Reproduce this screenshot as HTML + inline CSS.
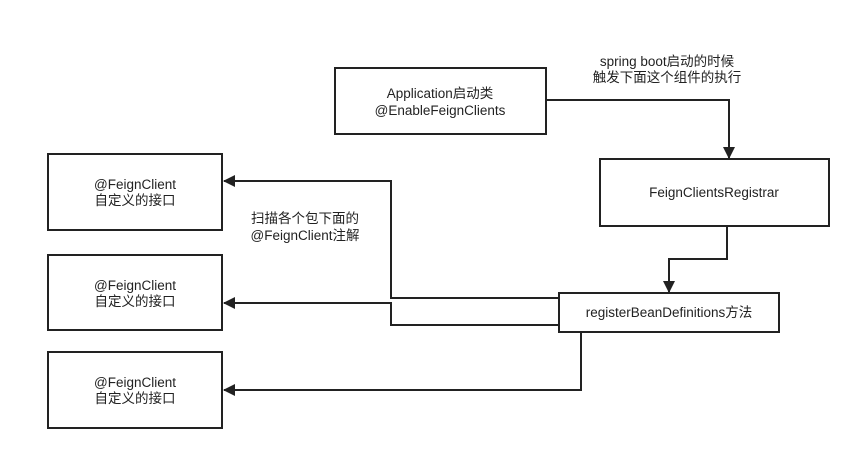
<!DOCTYPE html>
<html><head><meta charset="utf-8"><style>
body{margin:0;background:#fff;}
svg text{font-family:"Liberation Sans","Noto Sans CJK SC",sans-serif;font-size:13.5px;fill:#222;text-anchor:middle;}
</style></head><body>
<svg width="861" height="461" xmlns="http://www.w3.org/2000/svg">
<defs><marker id="b" markerWidth="12" markerHeight="16" refX="11" refY="6" orient="auto" markerUnits="userSpaceOnUse"><path d="M0,0 L12,6 L0,12 Z" fill="#222"/></marker></defs>
<g fill="none" stroke="#222" stroke-width="2">
<rect x="335" y="68" width="211" height="66"/>
<rect x="600" y="159" width="229" height="67"/>
<rect x="559" y="293" width="220" height="39"/>
<rect x="48" y="154" width="174" height="76"/>
<rect x="48" y="255" width="174" height="75"/>
<rect x="48" y="352" width="174" height="76"/>
<polyline points="546,100 729,100 729,158" marker-end="url(#b)"/>
<polyline points="727,226 727,259 669,259 669,292" marker-end="url(#b)"/>
<polyline points="559,298 391,298 391,181 224,181" marker-end="url(#b)"/>
<polyline points="559,325 391,325 391,303 224,303" marker-end="url(#b)"/>
<polyline points="581,332 581,390 224,390" marker-end="url(#b)"/>
</g>
<text x="440" y="98">Application启动类</text>
<text x="440" y="115">@EnableFeignClients</text>
<text x="667" y="66">spring boot启动的时候</text>
<text x="667" y="82">触发下面这个组件的执行</text>
<text x="714" y="197">FeignClientsRegistrar</text>
<text x="669" y="317">registerBeanDefinitions方法</text>
<text x="305" y="223">扫描各个包下面的</text>
<text x="305" y="240">@FeignClient注解</text>
<text x="135" y="189">@FeignClient</text><text x="135" y="205">自定义的接口</text>
<text x="135" y="290">@FeignClient</text><text x="135" y="306">自定义的接口</text>
<text x="135" y="387">@FeignClient</text><text x="135" y="403">自定义的接口</text>
</svg></body></html>
